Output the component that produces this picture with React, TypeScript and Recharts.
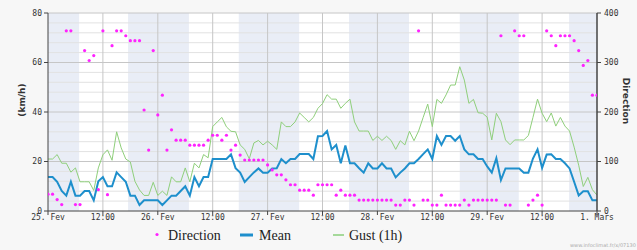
import React from 'react';
import {
  ComposedChart,
  Line,
  Scatter,
  XAxis,
  YAxis,
  CartesianGrid,
  ReferenceArea,
  ReferenceLine,
} from 'recharts';

// Hourly values, 25 Feb 00:00 -> 1 Mar 00:00 (121 points)
const MEAN = [
  13.7, 13.7, 11.8, 8.1, 6.2, 11.8, 6.2, 6.2, 8.1, 8.1, 4.3, 12, 13.7, 10, 10, 15.6, 13.7, 11.8, 6.2, 6.2, 2.4, 4.3, 4.3, 4.3,
  4.3, 2.4, 4.3, 6.2, 6.2, 8.1, 10, 6.2, 13.7, 10, 13.7, 13.7, 21, 21, 21, 21, 22.9, 17.3, 15.5, 11.7, 13.7, 15.6, 17.2, 15.5,
  15.5, 17.2, 17.3, 21, 19.3, 21, 21, 23, 23, 23, 21, 30.2, 30.3, 32.3, 24.9, 26.7, 19.3, 26.5, 19.3, 19.3, 17.3, 15.5, 19.3, 17.2,
  17.2, 19.3, 17.2, 17.2, 13.6, 15.5, 17.2, 19.3, 19.3, 21, 23, 24.9, 21, 30.3, 26.7, 30.3, 30.3, 28.4, 30.3, 24.9, 22.9, 22.9, 21, 21,
  18, 15.5, 21.3, 12.5, 17.2, 17.2, 17.2, 17.2, 15.5, 15.5, 21.2, 24.9, 17.4, 22.8, 22.9, 21, 21, 19.3, 17.2, 11.8, 6.3, 8, 8, 4.3,
  4.3,
];

const GUST = [
  21, 21, 22.8, 19.3, 19.3, 15.7, 17.4, 11.8, 11.8, 11.8, 8.3, 17.4, 22.7, 24.7, 20.5, 32, 25.5, 21, 19.8, 12, 8.5, 6.3, 6.3, 11.6,
  6.3, 8, 6.3, 13.8, 11.8, 11.8, 17.4, 11.8, 19.3, 17.4, 22.8, 21.5, 34.1, 36, 37.8, 34, 32.2, 32, 26.7, 24.9, 21.1, 27.5, 28.5, 26.7,
  28.2, 26.7, 24.9, 36, 34.1, 34.1, 36, 39.6, 37.8, 36, 37.8, 41.5, 43.4, 47, 45.2, 45.2, 41.5, 43.5, 45.2, 36, 32.3, 32.3, 32.3, 28.5,
  30.2, 28.5, 30.2, 28.5, 24.9, 28.4, 26.7, 32.2, 28.4, 32.3, 37.8, 43.2, 34.1, 45.1, 43.5, 46.9, 50.9, 50.9, 58.3, 52.9, 43.5, 45.1, 39.7, 39.5,
  37.9, 28.7, 39.5, 36.1, 28.7, 26.8, 28.7, 28.7, 28.7, 30.5, 37.8, 45.2, 39.5, 36.1, 39.6, 34.3, 37.8, 34.3, 32.3, 25.8, 18.5, 9.9, 13.6, 8.6,
  6.4,
];

const DIRECTION = [
  34, 34, 23, 13, 364, 364, 13, 13, 324, 304, 314, 43, 364, 33, 334, 364, 364, 354, 344, 344, 344, 204, 123, 324,
  194, 234, 123, 164, 143, 143, 143, 133, 133, 133, 133, 143, 153, 153, 143, 153, 123, 133, 113, 103, 103, 103, 103, 103,
  93, 83, 73, 73, 63, 53, 53, 42, 42, 42, 32, 53, 53, 53, 53, 32, 42, 32, 32, 32, 22, 22, 22, 22,
  22, 22, 22, 22, 12, 12, 22, 22, 12, 364, 22, 22, 12, 12, 32, 12, 12, 12, 12, 22, 12, 22, 22, 22,
  22, 22, 22, 354, 12, 12, 364, 354, 354, 12, 22, 32, 12, 364, 354, 334, 354, 354, 354, 344, 324, 294, 304, 234,
  234,
];

const X_TICKS = [0, 12, 24, 36, 48, 60, 72, 84, 96, 108, 120];
const X_LABELS = ['25. Fev', '12:00', '26. Fev', '12:00', '27. Fev', '12:00', '28. Fev', '12:00', '29. Fev', '12:00', '1. Mars'];
const INNER_X_LINES = [12, 24, 36, 48, 60, 72, 84, 96, 108];
const KMH_TICKS = [0, 20, 40, 60, 80];
const DIR_TICKS = [0, 100, 200, 300, 400];
const MINOR_GRID = [4, 8, 12, 16, 24, 28, 32, 36, 44, 48, 52, 56, 64, 68, 72, 76];
const MAJOR_GRID = [20, 40, 60, 80];
const NIGHTS: [number, number][] = [
  [0, 6.8],
  [17.5, 30.8],
  [41.7, 54.9],
  [65.8, 78.9],
  [90, 102.9],
  [113.9, 120],
];

const data = MEAN.map((m, i) => ({ h: i, mean: m, gust: GUST[i], dir: DIRECTION[i] }));

const TICK_FONT = { fontSize: 8, fontFamily: '"DejaVu Sans Mono", monospace', fill: '#333' };

const Dot = (props: any) => {
  const { cx, cy } = props;
  if (cx == null || cy == null) return null;
  return <circle cx={cx} cy={cy} r={1.6} fill="#ff22ff" />;
};

export default function App() {
  return (
    <div
      style={{
        position: 'absolute',
        left: 0,
        top: 0,
        width: 637,
        height: 250,
        background: '#f7f7f7',
        overflow: 'hidden',
      }}
    >
      <ComposedChart
        width={637}
        height={250}
        data={data}
        margin={{ top: 13, right: 0, bottom: 19, left: 0 }}
      >
        <CartesianGrid horizontal={false} vertical={false} fill="#ffffff" yAxisId="kmh" />
        {NIGHTS.map(([a, b], i) => (
          <ReferenceArea
            key={'n' + i}
            x1={a}
            x2={b}
            yAxisId="kmh"
            fill="#e9edf6"
            fillOpacity={1}
            stroke="none"
            ifOverflow="hidden"
          />
        ))}
        {MINOR_GRID.map((v) => (
          <ReferenceLine key={'mi' + v} y={v} yAxisId="kmh" stroke="#e2e2e2" strokeWidth={1} />
        ))}
        {MAJOR_GRID.map((v) => (
          <ReferenceLine key={'ma' + v} y={v} yAxisId="kmh" stroke="#c6c6c6" strokeWidth={1} />
        ))}
        {INNER_X_LINES.map((v) => (
          <ReferenceLine key={'vx' + v} x={v} yAxisId="kmh" stroke="#c6c6c6" strokeWidth={1} />
        ))}
        <XAxis
          dataKey="h"
          type="number"
          domain={[0, 120]}
          ticks={X_TICKS}
          tickFormatter={(v: number) => X_LABELS[X_TICKS.indexOf(v)] ?? ''}
          interval={0}
          height={20}
          tick={TICK_FONT}
          tickSize={4}
          tickMargin={-1}
          axisLine={{ stroke: '#444' }}
          tickLine={{ stroke: '#444' }}
          allowDataOverflow
        />
        <YAxis
          yAxisId="kmh"
          orientation="left"
          domain={[0, 80]}
          ticks={KMH_TICKS}
          width={48}
          tick={TICK_FONT}
          tickSize={4}
          tickMargin={2}
          axisLine={{ stroke: '#444' }}
          tickLine={{ stroke: '#444' }}
          allowDataOverflow
        />
        <YAxis
          yAxisId="dir"
          orientation="right"
          domain={[0, 400]}
          ticks={DIR_TICKS}
          width={40}
          tick={TICK_FONT}
          tickSize={4}
          tickMargin={3}
          axisLine={{ stroke: '#444', strokeWidth: 1.5 }}
          tickLine={{ stroke: '#444' }}
          allowDataOverflow
        />
        <Line
          yAxisId="kmh"
          type="linear"
          dataKey="gust"
          stroke="#8fcf7b"
          strokeWidth={1}
          dot={false}
          activeDot={false}
          isAnimationActive={false}
        />
        <Line
          yAxisId="kmh"
          type="linear"
          dataKey="mean"
          stroke="#1e8fcc"
          strokeWidth={2}
          dot={false}
          activeDot={false}
          isAnimationActive={false}
        />
        <Scatter yAxisId="dir" dataKey="dir" shape={Dot} isAnimationActive={false} />
      </ComposedChart>
      <svg
        width={637}
        height={250}
        style={{ position: 'absolute', left: 0, top: 0, pointerEvents: 'none' }}
      >
        <text
          x={25}
          y={100}
          transform="rotate(-90 25 100)"
          textAnchor="middle"
          style={{ fontSize: 9, fontWeight: 'bold', fontFamily: '"DejaVu Sans", sans-serif', fill: '#333' }}
        >
          (km/h)
        </text>
        <text
          x={623}
          y={101}
          transform="rotate(90 623 101)"
          textAnchor="middle"
          style={{ fontSize: 9, fontWeight: 'bold', fontFamily: '"DejaVu Sans", sans-serif', fill: '#333' }}
        >
          Direction
        </text>
        <g style={{ fontFamily: '"Liberation Serif", serif', fontSize: 14, fill: '#222' }}>
          <circle cx={157} cy={234.5} r={1.6} fill="#ff22ff" />
          <text x={168} y={239.5}>Direction</text>
          <line x1={240} y1={235} x2={253} y2={235} stroke="#1e8fcc" strokeWidth={3} />
          <text x={259} y={239.5}>Mean</text>
          <line x1={333} y1={235} x2={344} y2={235} stroke="#a5d99a" strokeWidth={2} />
          <text x={349} y={239.5}>Gust (1h)</text>
        </g>
        <text x={570} y={247} style={{ fontSize: 5, fontFamily: '"DejaVu Sans", sans-serif', fill: '#aaa' }}>
          www.infoclimat.fr/x/07130
        </text>
      </svg>
    </div>
  );
}
